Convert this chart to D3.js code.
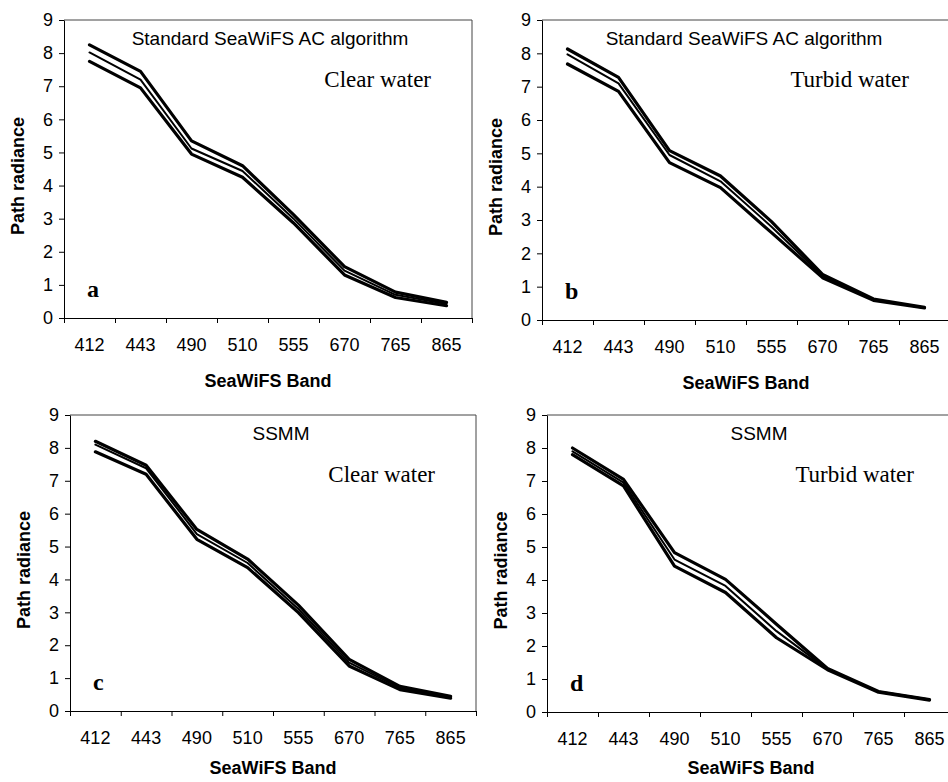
<!DOCTYPE html>
<html>
<head>
<meta charset="utf-8">
<script src="https://d3js.org/d3.v7.min.js"></script>
<style>
body { margin: 0; background: #fff; }
svg { display: block; }
.axis text { font-family: Arial, 'Liberation Sans', sans-serif; font-size: 18px; fill: #000; }
.axis line, .axis path { stroke: #000; stroke-width: 1; }
.sub { font-family: Arial, 'Liberation Sans', sans-serif; font-size: 19px; }
.water { font-family: 'Times New Roman', 'Liberation Serif', serif; font-size: 23px; }
.letter { font-family: 'Times New Roman', 'Liberation Serif', serif; font-size: 24px; font-weight: bold; }
.title { font-family: Arial, 'Liberation Sans', sans-serif; font-size: 18px; font-weight: bold; }
</style>
</head>
<body>
<div id="chart"></div>
<script>
var bands = ["412", "443", "490", "510", "555", "670", "765", "865"];
var yTicks = [0, 1, 2, 3, 4, 5, 6, 7, 8, 9];

// a: standard algorithm, clear water
var aHigh = [8.25, 7.45, 5.35, 4.6, 3.12, 1.55, 0.78, 0.47];
var aMid  = [8.02, 7.2, 5.12, 4.44, 3.0, 1.43, 0.7, 0.42];
var aLow  = [7.75, 6.95, 4.95, 4.25, 2.87, 1.3, 0.62, 0.37];
// b: standard algorithm, turbid water
var bHigh = [8.13, 7.28, 5.08, 4.32, 2.95, 1.37, 0.63, 0.38];
var bMid  = [7.97, 7.1, 4.95, 4.16, 2.8, 1.32, 0.61, 0.37];
var bLow  = [7.68, 6.86, 4.72, 3.97, 2.62, 1.27, 0.59, 0.36];
// c: SSMM, clear water
var cHigh = [8.2, 7.47, 5.52, 4.62, 3.22, 1.57, 0.75, 0.45];
var cMid  = [8.1, 7.38, 5.38, 4.5, 3.1, 1.47, 0.7, 0.42];
var cLow  = [7.88, 7.2, 5.22, 4.36, 2.99, 1.37, 0.65, 0.39];
// d: SSMM, turbid water
var dHigh = [8.0, 7.05, 4.83, 4.02, 2.66, 1.32, 0.62, 0.38];
var dMid  = [7.9, 6.95, 4.62, 3.82, 2.45, 1.3, 0.61, 0.37];
var dLow  = [7.8, 6.85, 4.42, 3.62, 2.25, 1.28, 0.6, 0.36];

var panels = [
  {letter: "a", method: "Standard SeaWiFS AC algorithm", water: "Clear water",  series: [aHigh, aMid, aLow], left: 64,  right: 472, top: 20,  bottom: 318, subDx: 2},
  {letter: "b", method: "Standard SeaWiFS AC algorithm", water: "Turbid water", series: [bHigh, bMid, bLow], left: 542, right: 950, top: 20,  bottom: 320, subDx: -2},
  {letter: "c", method: "SSMM", water: "Clear water",  series: [cHigh, cMid, cLow], left: 70,  right: 476, top: 415, bottom: 711, subDx: 8},
  {letter: "d", method: "SSMM", water: "Turbid water", series: [dHigh, dMid, dLow], left: 547, right: 955, top: 415, bottom: 712, subDx: 8}
];

var lineWidths = [3.2, 2, 3.2];

var svg = d3.select("#chart").append("svg")
  .attr("width", 948).attr("height", 782);

panels.forEach(function(p) {
  var g = svg.append("g");

  var x = d3.scaleBand().domain(bands).range([p.left, p.right]);
  var xEdge = d3.scaleLinear().domain([0, bands.length]).range([p.left, p.right]);
  var y = d3.scaleLinear().domain([0, 9]).range([p.bottom, p.top]);

  // frame top and right (thin)
  g.append("line")
    .attr("x1", p.left).attr("x2", p.right)
    .attr("y1", p.top).attr("y2", p.top)
    .attr("stroke", "#444").attr("stroke-width", 1);
  g.append("line")
    .attr("x1", p.right).attr("x2", p.right)
    .attr("y1", p.top).attr("y2", p.bottom)
    .attr("stroke", "#444").attr("stroke-width", 1);

  // y axis
  g.append("g").attr("class", "axis")
    .attr("transform", "translate(" + p.left + ",0)")
    .call(d3.axisLeft(y).tickValues(yTicks).tickSize(5).tickSizeOuter(0).tickPadding(6));

  // x axis: ticks at band edges, labels at centres
  g.append("g").attr("class", "axis")
    .attr("transform", "translate(0," + p.bottom + ")")
    .call(d3.axisBottom(xEdge).ticks(bands.length).tickSize(5).tickSizeOuter(0).tickFormat(""));
  var xl = g.append("g").attr("class", "axis")
    .attr("transform", "translate(0," + p.bottom + ")")
    .call(d3.axisBottom(x).tickSize(0).tickPadding(20));
  xl.select(".domain").remove();

  // lines
  var line = d3.line()
    .x(function(d, i) { return x(bands[i]) + x.bandwidth() / 2; })
    .y(function(d) { return y(d); });
  p.series.forEach(function(s, k) {
    g.append("path")
      .datum(s)
      .attr("d", line)
      .attr("fill", "none")
      .attr("stroke", "#000")
      .attr("stroke-width", lineWidths[k])
      .attr("stroke-linejoin", "round")
      .attr("stroke-linecap", "round");
  });

  // texts
  var cx = (p.left + p.right) / 2;
  g.append("text").attr("class", "sub")
    .attr("x", cx + p.subDx).attr("y", p.top + 25)
    .attr("text-anchor", "middle")
    .text(p.method);
  g.append("text").attr("class", "water")
    .attr("x", p.right - 41).attr("y", p.top + 67)
    .attr("text-anchor", "end")
    .text(p.water);
  g.append("text").attr("class", "letter")
    .attr("x", p.left + 23).attr("y", p.bottom - 21)
    .text(p.letter);
  g.append("text").attr("class", "title")
    .attr("transform", "translate(" + (p.left - 40) + "," + ((p.top + p.bottom) / 2 + 7) + ") rotate(-90)")
    .attr("text-anchor", "middle")
    .text("Path radiance");
  g.append("text").attr("class", "title")
    .attr("x", cx).attr("y", Math.min(p.bottom + 69, 774))
    .attr("text-anchor", "middle")
    .text("SeaWiFS Band");
});
</script>
</body>
</html>
